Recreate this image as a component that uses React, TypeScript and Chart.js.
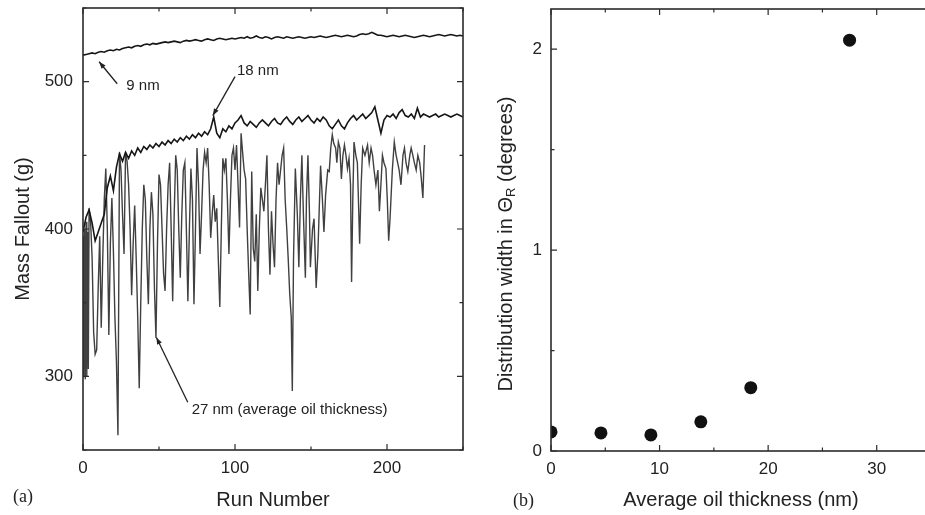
import React, { useEffect, useRef } from "react";
import { Chart, registerables } from "chart.js";

Chart.register(...registerables);

const FONT = '"Liberation Sans", Arial, Helvetica, sans-serif';
const INK = "#222222";

// ---------- Panel (a): mass fallout vs run number ----------
// 9 nm and 18 nm curves are sampled every RUN_STEP runs, starting at run 0
const RUN_STEP = 2;
const mass9nm = [
  518, 518.5, 519, 519.5, 519, 520, 520.5, 520, 521, 521.5, 521,
  522, 521.5, 522.5, 523, 523.5, 523, 524, 524.5, 524, 525, 525.5, 525, 526, 525.5, 526,
  526.5, 527, 526.5, 527, 527.5, 527, 526.5, 527.5, 528, 527.5, 528, 528.5, 528, 527.5, 528.5, 529, 528.5, 528, 529, 529.5, 529, 528.5, 529, 529.5, 529,
  529.5, 530, 529.5, 530.5, 529.5, 530, 531, 530, 529.5, 530.5, 530, 529, 530, 530.5, 530, 529.5, 530.5, 530, 529.5, 530, 530.5, 530, 529.5, 530, 530.5,
  530, 530.5, 531, 530.5, 530, 530.5, 531, 531.5, 531, 530.5, 531, 531.5, 531, 530.5, 531, 532, 532.5, 532, 532.5, 533.5, 532.5, 531.5, 531.5, 531, 530.5,
  531, 531.5, 531, 530.5, 531, 531.5, 531, 530.5, 530, 530.5, 531, 531.5, 531, 530.5, 531, 531.5, 532, 531.5, 531, 531.5, 532, 531.5, 531, 531.5, 531,
];
const mass18nm = [
  398, 408, 413, 404, 392, 398, 404, 410, 428, 436, 426, 442, 451, 446, 452, 448,
  453, 450, 455, 452, 456, 454, 457, 455, 458, 456, 459, 457, 460, 458, 461,
  459, 462, 460, 463, 461, 464, 462, 465, 463, 466, 464, 468, 476, 465, 462, 468, 466, 470, 468, 472,
  474, 477, 472, 470, 473, 471, 469, 472, 474, 472, 470, 473, 475, 472, 471, 474, 476, 473, 471, 474, 476, 473, 475, 477, 474,
  472, 475, 473, 476, 474, 470, 468, 471, 474, 470, 468, 472, 475, 477, 474, 476, 478, 475, 477, 479, 483, 474, 465, 474, 477,
  476, 478, 475, 479, 481, 477, 476, 478, 475, 482, 476, 478, 477, 476, 477, 478, 476, 477, 478, 477, 476, 477, 478, 477, 476,
];
const runs27nm = [
  0, 0.5, 1, 1.5, 2, 2.5, 3, 3.5, 4, 5,
  6, 7, 8, 9, 10, 11, 12, 13, 14, 15,
  16, 17, 18, 19, 20, 21, 22, 23, 24, 25,
  26, 27, 28, 29, 30, 31, 32, 33, 34, 35,
  36, 37, 38, 39, 40, 41, 42, 43, 44, 45,
  46, 47, 48, 49, 50, 51, 52, 53, 54, 55,
  56, 57, 58, 59, 60, 61, 62, 63, 64, 65,
  66, 67, 68, 69, 70, 71, 72, 73, 74, 75,
  76, 77, 78, 79, 80, 81, 82, 83, 84, 85,
  86, 87, 88, 89, 90, 91, 92, 93, 94, 95,
  96, 97, 98, 99, 100, 101, 102, 103, 104, 105,
  106, 107, 108, 109, 110, 111, 112, 113, 114, 115,
  116, 117, 118, 119, 120, 121, 122, 123, 124, 125,
  126, 127, 128, 129, 130, 131, 132, 133, 134, 135,
  136, 137, 137.7, 138.5, 139.7, 141, 142, 143, 144, 145,
  146.3, 147, 148, 149, 149.6, 151, 152, 153.4, 154.5, 156.3,
  157.5, 158.5, 159.6, 161, 162, 163, 164, 165, 166.2, 167,
  168, 169, 170, 171, 172, 173, 174, 175, 176, 176.7,
  177.5, 178.3, 179.5, 180.5, 181.2, 182, 183, 184, 185.5, 187.2,
  188.3, 189.5, 190.5, 191.5, 192.7, 194, 195, 196, 197, 198,
  199.3, 200.2, 201.1, 202, 203.5, 204.8, 206, 207, 208, 209.2,
  210.5, 211.5, 212.5, 213.7, 215, 215.9, 217, 218, 219.2, 220.3,
  221.5, 222.5, 223.6, 224.7,
];
const mass27nm = [
  395, 300, 400, 298, 405, 300, 398, 305, 414, 405,
  380, 330, 315, 318, 360, 395, 333, 380, 420, 441,
  400, 328, 390, 421, 385, 340, 310, 260, 452, 440,
  410, 383, 452, 446, 430, 400, 355, 390, 416, 380,
  340, 292, 350, 400, 430, 420, 380, 349, 400, 425,
  410, 360, 326, 390, 437, 430, 400, 370, 358, 400,
  430, 445, 400, 351, 410, 450, 440, 400, 367, 410,
  440, 445, 400, 351, 400, 441, 420, 349, 400, 455,
  430, 383, 410, 440, 452, 445, 455, 430, 394, 410,
  423, 405, 414, 380, 347, 400, 448, 440, 448, 420,
  383, 420, 450, 455, 440, 457, 430, 401, 465, 452,
  440, 434, 400, 370, 342, 439, 387, 378, 410, 358,
  400, 428, 420, 412, 430, 450, 400, 369, 412, 390,
  374, 420, 445, 430, 440, 450, 455, 420, 401, 380,
  356, 340, 290, 380, 441, 410, 374, 420, 450, 410,
  367, 420, 450, 410, 374, 400, 407, 360, 383, 443,
  420, 398, 423, 440, 439, 455, 464, 458, 455, 445,
  459, 455, 434, 450, 457, 450, 441, 448, 430, 364,
  420, 459, 450, 445, 420, 390, 430, 455, 450, 457,
  445, 455, 450, 440, 430, 440, 412, 430, 450, 445,
  441, 420, 392, 407, 440, 459, 450, 445, 440, 430,
  450, 455, 445, 439, 450, 455, 450, 445, 440, 450,
  445, 435, 421, 457,
];
const xLabelsA = [0, 100, 200];
const yLabelsA = [300, 400, 500];

// annotations for panel (a), in data units (run, mass)
const noteLabels = ["9 nm", "18 nm", "27 nm (average oil thickness)"];
const noteTextAt = [[28.5, 497.3], [101.3, 507.4], [71.5, 277]];
const noteArrowFrom = [[22.5, 498.6], [100, 503.4], [68.9, 282.4]];
const noteArrowTo = [[10.6, 513.5], [85.4, 477], [48.3, 326.4]];

// ---------- Panel (b): distribution width vs oil thickness ----------
const thicknessNm = [0, 4.6, 9.2, 13.8, 18.4, 27.5];
const widthDeg = [0.095, 0.09, 0.08, 0.145, 0.315, 2.045];
const xLabelsB = [0, 10, 20, 30];
const yLabelsB = [0, 1, 2];

function makeFramePlugin(xMajor: number[], yMajor: number[]) {
  return {
    id: "frameTicks",
    afterDatasetsDraw(chart: any) {
      const { ctx, chartArea: a } = chart;
      const xs = chart.scales.x;
      const ys = chart.scales.y;
      ctx.save();
      ctx.strokeStyle = "#2b2b2b";
      ctx.lineWidth = 1.2;
      ctx.beginPath();
      for (const t of xs.ticks) {
        const p = xs.getPixelForValue(t.value);
        const len = xMajor.includes(t.value) ? 6 : 3.5;
        ctx.moveTo(p, a.bottom);
        ctx.lineTo(p, a.bottom - len);
        ctx.moveTo(p, a.top);
        ctx.lineTo(p, a.top + len);
      }
      for (const t of ys.ticks) {
        const p = ys.getPixelForValue(t.value);
        const len = yMajor.includes(t.value) ? 6 : 3.5;
        ctx.moveTo(a.left, p);
        ctx.lineTo(a.left + len, p);
        ctx.moveTo(a.right, p);
        ctx.lineTo(a.right - len, p);
      }
      ctx.stroke();
      ctx.lineWidth = 1.6;
      ctx.strokeRect(a.left, a.top, a.right - a.left, a.bottom - a.top);
      ctx.restore();
    },
  };
}

const notesPlugin = {
  id: "notes",
  afterDatasetsDraw(chart: any) {
    const { ctx } = chart;
    const xs = chart.scales.x;
    const ys = chart.scales.y;
    ctx.save();
    ctx.font = `15px ${FONT}`;
    ctx.fillStyle = INK;
    ctx.strokeStyle = INK;
    ctx.textBaseline = "middle";
    ctx.textAlign = "left";
    noteLabels.forEach((txt, i) => {
      ctx.fillText(txt, xs.getPixelForValue(noteTextAt[i][0]), ys.getPixelForValue(noteTextAt[i][1]));
      const x0 = xs.getPixelForValue(noteArrowFrom[i][0]);
      const y0 = ys.getPixelForValue(noteArrowFrom[i][1]);
      const x1 = xs.getPixelForValue(noteArrowTo[i][0]);
      const y1 = ys.getPixelForValue(noteArrowTo[i][1]);
      ctx.lineWidth = 1.3;
      ctx.beginPath();
      ctx.moveTo(x0, y0);
      ctx.lineTo(x1, y1);
      ctx.stroke();
      const ang = Math.atan2(y1 - y0, x1 - x0);
      const L = 7;
      const W = 2.6;
      const bx = x1 - L * Math.cos(ang);
      const by = y1 - L * Math.sin(ang);
      ctx.beginPath();
      ctx.moveTo(x1, y1);
      ctx.lineTo(bx + W * Math.sin(ang), by - W * Math.cos(ang));
      ctx.lineTo(bx - W * Math.sin(ang), by + W * Math.cos(ang));
      ctx.closePath();
      ctx.fill();
    });
    ctx.restore();
  },
};

const yTitleBPlugin = {
  id: "yTitleB",
  afterDraw(chart: any) {
    const { ctx, chartArea: a } = chart;
    const ys = chart.scales.y;
    const big = `20px ${FONT}`;
    const small = `13px ${FONT}`;
    const p1 = "Distribution width in \u0398";
    const p2 = "R";
    const p3 = " (degrees)";
    ctx.save();
    ctx.font = big;
    const w1 = ctx.measureText(p1).width;
    const w3 = ctx.measureText(p3).width;
    ctx.font = small;
    const w2 = ctx.measureText(p2).width;
    const total = w1 + w2 + w3;
    ctx.translate(ys.left + 36, (a.top + a.bottom) / 2 + 14);
    ctx.rotate(-Math.PI / 2);
    ctx.textBaseline = "middle";
    ctx.textAlign = "left";
    ctx.fillStyle = INK;
    let x = -total / 2;
    ctx.font = big;
    ctx.fillText(p1, x, 0);
    x += w1;
    ctx.font = small;
    ctx.fillText(p2, x, 5);
    x += w2;
    ctx.font = big;
    ctx.fillText(p3, x, 0);
    ctx.restore();
  },
};

const tickFont = { family: FONT, size: 17 };
const titleFont = { family: FONT, size: 20 };

function fitX(height: number) {
  return (s: any) => {
    s.height = height;
    s.paddingLeft = 0;
    s.paddingRight = 0;
  };
}
function fitY(width: number) {
  return (s: any) => {
    s.width = width;
    s.paddingTop = 0;
    s.paddingBottom = 0;
  };
}

export default function App() {
  const refA = useRef<HTMLCanvasElement | null>(null);
  const refB = useRef<HTMLCanvasElement | null>(null);

  useEffect(() => {
    const series9 = mass9nm.map((v, i) => ({ x: i * RUN_STEP, y: v }));
    const series18 = mass18nm.map((v, i) => ({ x: i * RUN_STEP, y: v }));
    const series27 = runs27nm.map((r, i) => ({ x: r, y: mass27nm[i] }));

    const chartA = new Chart(refA.current as HTMLCanvasElement, {
      type: "line",
      data: {
        datasets: [
          { label: "9 nm", data: series9, borderColor: "#161616", borderWidth: 1.6, pointRadius: 0, tension: 0 },
          { label: "18 nm", data: series18, borderColor: "#161616", borderWidth: 1.6, pointRadius: 0, tension: 0 },
          { label: "27 nm", data: series27, borderColor: "#404040", borderWidth: 1.4, pointRadius: 0, tension: 0 },
        ],
      },
      options: {
        responsive: false,
        animation: false,
        layout: { autoPadding: false, padding: { left: 0, right: 7, top: 8, bottom: 0 } },
        plugins: { legend: { display: false }, tooltip: { enabled: false } },
        scales: {
          x: {
            type: "linear",
            min: 0,
            max: 250,
            grid: { display: false, drawTicks: false },
            border: { display: false },
            ticks: {
              stepSize: 50,
              autoSkip: false,
              maxRotation: 0,
              padding: 8,
              color: INK,
              font: tickFont,
              callback: (v: any) => (xLabelsA.includes(Number(v)) ? String(v) : ""),
            },
            title: { display: true, text: "Run Number", color: INK, font: titleFont, padding: { top: 0, bottom: 3 } },
            afterFit: fitX(65),
          },
          y: {
            type: "linear",
            min: 250,
            max: 550,
            grid: { display: false, drawTicks: false },
            border: { display: false },
            ticks: {
              stepSize: 50,
              autoSkip: false,
              padding: 10,
              color: INK,
              font: tickFont,
              callback: (v: any) => (yLabelsA.includes(Number(v)) ? String(v) : ""),
            },
            title: { display: true, text: "Mass Fallout (g)", color: INK, font: titleFont, padding: { top: 11, bottom: 0 } },
            afterFit: fitY(83),
          },
        },
      },
      plugins: [makeFramePlugin(xLabelsA, yLabelsA), notesPlugin],
    } as any);

    const chartB = new Chart(refB.current as HTMLCanvasElement, {
      type: "scatter",
      data: {
        datasets: [
          {
            label: "Distribution width",
            data: thicknessNm.map((t, i) => ({ x: t, y: widthDeg[i] })),
            backgroundColor: "#111111",
            borderColor: "#111111",
            borderWidth: 0,
            pointRadius: 6.5,
          },
        ],
      },
      options: {
        responsive: false,
        animation: false,
        layout: { autoPadding: false, padding: { left: 0, right: 1, top: 9, bottom: 0 } },
        plugins: { legend: { display: false }, tooltip: { enabled: false } },
        scales: {
          x: {
            type: "linear",
            min: 0,
            max: 35,
            grid: { display: false, drawTicks: false },
            border: { display: false },
            ticks: {
              stepSize: 5,
              autoSkip: false,
              maxRotation: 0,
              padding: 8,
              color: INK,
              font: tickFont,
              callback: (v: any) => (xLabelsB.includes(Number(v)) ? String(v) : ""),
            },
            title: { display: true, text: "Average oil thickness (nm)", color: INK, font: titleFont, padding: { top: 0, bottom: 3 } },
            afterFit: fitX(64),
          },
          y: {
            type: "linear",
            min: 0,
            max: 2.2,
            grid: { display: false, drawTicks: false },
            border: { display: false },
            ticks: {
              stepSize: 0.5,
              includeBounds: false,
              autoSkip: false,
              padding: 9,
              color: INK,
              font: tickFont,
              callback: (v: any) => (yLabelsB.includes(Number(v)) ? String(v) : ""),
            },
            title: { display: false },
            afterFit: fitY(81),
          },
        },
      },
      plugins: [makeFramePlugin(xLabelsB, yLabelsB), yTitleBPlugin],
    } as any);

    return () => {
      chartA.destroy();
      chartB.destroy();
    };
  }, []);

  const panelLabel: React.CSSProperties = {
    position: "absolute",
    font: '18px "Liberation Serif", "Times New Roman", serif',
    lineHeight: "20px",
    color: INK,
  };

  return (
    <div style={{ position: "fixed", left: 0, top: 0, width: 925, height: 515, overflow: "hidden", background: "#ffffff" }}>
      <div style={{ position: "absolute", left: 0, top: 0, width: 470, height: 515 }}>
        <canvas ref={refA} width={470} height={515} style={{ display: "block" }} />
      </div>
      <div style={{ position: "absolute", left: 470, top: 0, width: 462, height: 515 }}>
        <canvas ref={refB} width={462} height={515} style={{ display: "block" }} />
      </div>
      <div style={{ ...panelLabel, left: 13, top: 486 }}>(a)</div>
      <div style={{ ...panelLabel, left: 513, top: 490 }}>(b)</div>
    </div>
  );
}
